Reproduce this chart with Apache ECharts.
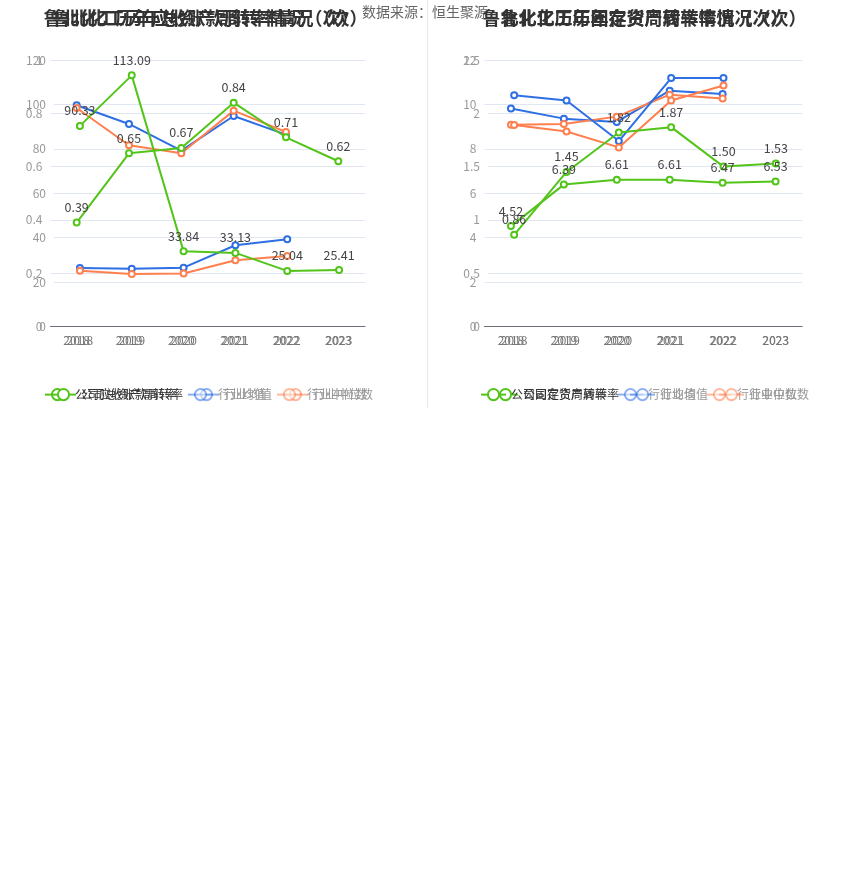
<!DOCTYPE html>
<html>
<head>
<meta charset="utf-8">
<script src="https://cdn.jsdelivr.net/npm/echarts@6/dist/echarts.min.js"></script>
<style>
html,body{margin:0;padding:0;background:#fff;}
#main{width:850px;height:890px;}
</style>
</head>
<body>
<div id="main"></div>
<script>
// ---- data ----
var years = ['2018', '2019', '2020', '2021', '2022', '2023'];
// 应收账款周转率 (axis 0-120)
var arCompany = [90.33, 113.09, 33.84, 33.13, 25.04, 25.41];
var arMean = [26.3, 26.0, 26.5, 36.6, 39.3];
var arMedian = [25.1, 23.6, 23.9, 29.8, 31.7];
// 总资产周转率 (axis 0-1)
var taCompany = [0.39, 0.65, 0.67, 0.84, 0.71, 0.62];
var taMean = [0.83, 0.76, 0.66, 0.79, 0.72];
var taMedian = [0.82, 0.68, 0.65, 0.81, 0.73];
// 存货周转率 (axis 0-12)
var invCompany = [4.52, 6.39, 6.61, 6.61, 6.47, 6.53];
var invMean = [9.82, 9.36, 9.21, 10.62, 10.47];
var invMedian = [9.09, 9.12, 9.45, 10.44, 10.27];
// 固定资产周转率 (axis 0-2.5)
var faCompany = [0.86, 1.45, 1.82, 1.87, 1.50, 1.53];
var faMean = [2.17, 2.12, 1.74, 2.33, 2.33];
var faMedian = [1.89, 1.83, 1.68, 2.12, 2.26];

var titles = [
  '鲁北化工历年应收账款周转率情况（次）',
  '鲁北化工历年总资产周转率情况（次）',
  '鲁北化工历年存货周转率情况（次）',
  '鲁北化工历年固定资产周转率情况（次）'
];
var companyNames = ['公司应收账款周转率', '公司总资产周转率', '公司存货周转率', '公司固定资产周转率'];
var yMax = [120, 1, 12, 2.5];
var yInterval = [20, 0.2, 2, 0.5];

var GREEN = '#52C41A', BLUE = '#2F6FE4', ORANGE = '#FF7F4F';
var FONT = "'Noto Sans CJK SC', 'Noto Sans', sans-serif";

var grids = [
  {left: 54, right: 485, top: 60, bottom: 563.5},
  {left: 50.5, right: 485.5, top: 60, bottom: 563.5},
  {left: 484.5, right: 48, top: 60, bottom: 563.5},
  {left: 488, right: 48, top: 60, bottom: 563.5}
];
var titleCenters = [200.5, 200.5, 639.5, 639.5];
var legendLefts = [39, 45, 487, 475];

var companyData = [arCompany, taCompany, invCompany, faCompany];
var meanData = [arMean, taMean, invMean, faMean];
var medianData = [arMedian, taMedian, invMedian, faMedian];

var xAxes = [], yAxes = [], series = [], legends = [], titleOpts = [];
for (var i = 0; i < 4; i++) {
  xAxes.push({
    type: 'category', gridIndex: i, data: years, boundaryGap: true,
    axisTick: {alignWithLabel: true, lineStyle: {color: '#6E7079'}},
    axisLine: {lineStyle: {color: '#6E7079'}},
    axisLabel: {color: '#777', fontSize: 12, fontFamily: FONT}
  });
  yAxes.push({
    type: 'value', gridIndex: i, min: 0, max: yMax[i], interval: yInterval[i],
    axisLine: {show: false}, axisTick: {show: false},
    axisLabel: {color: '#999', fontSize: 12, fontFamily: FONT},
    splitLine: {lineStyle: {color: '#E0E6F1'}}
  });
  series.push({
    name: companyNames[i], type: 'line', xAxisIndex: i, yAxisIndex: i,
    data: companyData[i], symbol: 'emptyCircle', symbolSize: 6,
    lineStyle: {width: 2, color: GREEN}, itemStyle: {color: GREEN},
    label: {show: true, position: 'top', color: '#444', fontSize: 12.5, fontFamily: FONT,
      formatter: function (p) { return p.value.toFixed(2); }},
    z: 3
  });
  series.push({
    name: '行业均值', type: 'line', xAxisIndex: i, yAxisIndex: i,
    data: meanData[i], symbol: 'emptyCircle', symbolSize: 6,
    lineStyle: {width: 2, color: BLUE}, itemStyle: {color: BLUE}, z: 2
  });
  series.push({
    name: '行业中位数', type: 'line', xAxisIndex: i, yAxisIndex: i,
    data: medianData[i], symbol: 'emptyCircle', symbolSize: 6,
    lineStyle: {width: 2, color: ORANGE}, itemStyle: {color: ORANGE}, z: 2
  });
  legends.push({
    left: legendLefts[i], top: 383, itemWidth: 25, itemHeight: 14, itemGap: 10,
    selectedMode: false,
    textStyle: {fontSize: 12, fontFamily: FONT, color: '#333'},
    data: [
      {name: companyNames[i], textStyle: {color: '#333'}},
      {name: '行业均值', textStyle: {color: '#999'}, itemStyle: {opacity: 0.55}, lineStyle: {opacity: 0.55}},
      {name: '行业中位数', textStyle: {color: '#999'}, itemStyle: {opacity: 0.55}, lineStyle: {opacity: 0.55}}
    ]
  });
  titleOpts.push({
    text: titles[i], left: titleCenters[i], top: 4, textAlign: 'center',
    textStyle: {fontSize: 18, fontWeight: 'bold', color: '#333', fontFamily: FONT}
  });
}

var chart = echarts.init(document.getElementById('main'));
chart.setOption({
  animation: false,
  backgroundColor: '#fff',
  title: titleOpts,
  legend: legends,
  grid: grids,
  xAxis: xAxes,
  yAxis: yAxes,
  series: series,
  graphic: [
    {type: 'line', z: 0, shape: {x1: 427.5, y1: 0, x2: 427.5, y2: 408},
      style: {stroke: '#E8E8E8', lineWidth: 1}},
    {type: 'text', z: 0, left: 362, top: 5,
      style: {text: '数据来源：恒生聚源', fill: '#666', fontSize: 14, fontFamily: FONT}}
  ]
});
</script>
</body>
</html>
